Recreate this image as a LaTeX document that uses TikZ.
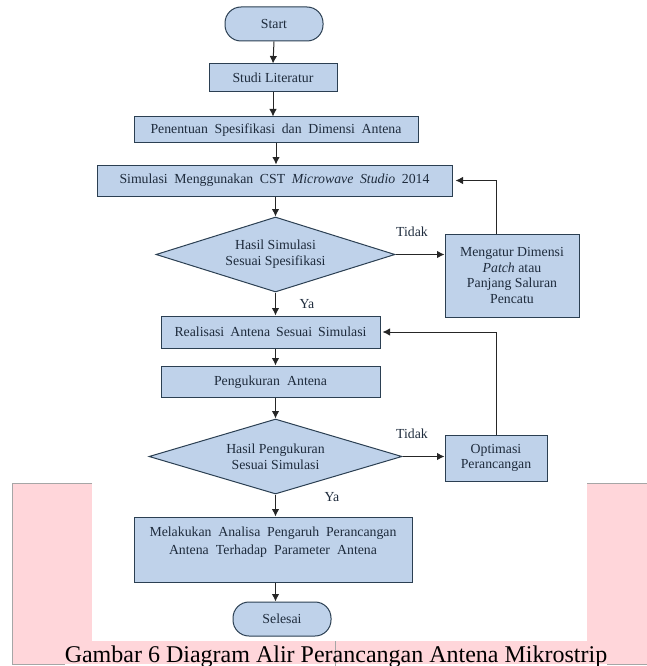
\documentclass[tikz,border=0pt]{standalone}
\usepackage{fontspec}
\setmainfont{Liberation Serif}
\usetikzlibrary{shapes.geometric,arrows.meta}
\definecolor{boxfill}{HTML}{BFD2EA}
\definecolor{boxline}{HTML}{2B3F52}
\definecolor{inktext}{HTML}{1E2B3C}
\definecolor{bandpink}{HTML}{FFD6DA}
\newcommand{\fitline}[2]{\makebox[#1pt][s]{#2}}
\tikzset{
  x=1pt,y=-1pt,
  every node/.style={font=\fontsize{13.8}{15.7}\selectfont,text=inktext,inner sep=0pt},
  procbox/.style={draw=boxline,fill=boxfill,line width=1pt,align=center},
  oneline/.style={text height=10pt,text depth=2pt},
  term/.style={procbox,rounded corners=16pt},
  flow/.style={draw=black!85,line width=1pt,-{Latex[length=7.5pt,width=7.5pt]}},
  note/.style={font=\fontsize{13.8}{15}\selectfont}
}
\begin{document}
\begin{tikzpicture}
\useasboundingbox (0,0) rectangle (647,666);
% pink band behind the white page area
\fill[bandpink] (12,483) rectangle (647,664);
\fill[white] (92,483) rectangle (587,641);
\draw[black!35,line width=0.5pt] (335,641) -- (335,666);
\draw[black!35,line width=0.5pt] (92,483) -- (12,483) -- (12,664) -- (65,664);
\draw[black!35,line width=0.5pt] (587,483) -- (647,483);
\draw[black!35,line width=0.5pt] (607,664) -- (647,664);
\node[font=\fontsize{24}{26}\selectfont,text=black,anchor=base] (cap) at (336,662) {Gambar 6 Diagram Alir Perancangan Antena Mikrostrip};

\node[term,minimum width=98pt,minimum height=34pt] (start) at (274,24) {Start};
\node[procbox,minimum width=128pt,minimum height=28pt] (studi) at (273,78) {Studi Literatur};
\node[procbox,oneline,minimum width=284pt,minimum height=25pt] (spek) at (276,129.5) {\fitline{251}{Penentuan Spesifikasi dan Dimensi Antena}};
\node[procbox,text height=9pt,text depth=3pt,minimum width=355pt,minimum height=31pt] (sim) at (274.5,180.5) {\fitline{310}{Simulasi Menggunakan CST \textit{Microwave Studio} 2014}};
\node[procbox,diamond,minimum width=239pt,minimum height=75pt,aspect=3.19] (hs) at (275.5,254.5) {};
\node[align=center] (hstext) at (275.5,254.5) {Hasil Simulasi\\Sesuai Spesifikasi};
\node[procbox,minimum width=134pt,minimum height=83pt] (atur) at (512,275.5) {Mengatur Dimensi\\\textit{Patch} atau\\Panjang Saluran\\Pencatu};
\node[procbox,oneline,minimum width=219pt,minimum height=32pt] (real) at (270.5,332) {\fitline{192}{Realisasi Antena Sesuai Simulasi}};
\node[procbox,oneline,minimum width=219pt,minimum height=31pt] (ukur) at (270.5,381.5) {\fitline{113}{Pengukuran Antena}};
\node[procbox,diamond,minimum width=253pt,minimum height=75pt,aspect=3.37] (hp) at (275.5,456.5) {};
\node[align=center] (hptext) at (275.5,456.5) {Hasil Pengukuran\\Sesuai Simulasi};
\node[procbox,minimum width=102pt,minimum height=46pt] (opt) at (496,458) {Optimasi\\Perancangan};
\node[procbox,minimum width=278pt,minimum height=65pt,font=\fontsize{13.8}{18}\selectfont] (ana) at (273,549.5) {\fitline{247}{Melakukan Analisa Pengaruh Perancangan}\\\fitline{208}{Antena Terhadap Parameter Antena}\\\mbox{}};
\node[term,minimum width=98pt,minimum height=34pt] (end) at (282,619) {Selesai};

\draw[flow] (start.south) -- (studi.north);
\draw[flow] (studi.south) -- (spek.north -| studi.south);
\draw[flow] (spek.south) -- (sim.north -| spek.south);
\draw[flow] (sim.south -| hs.north) -- (hs.north);
\draw[flow] (hs.south) -- (real.north -| hs.south);
\draw[flow] (real.south -| hs.south) -- (ukur.north -| hs.south);
\draw[flow] (ukur.south -| hp.north) -- (hp.north);
\draw[flow] (hp.south) -- (ana.north -| hp.south);
\draw[flow] (ana.south -| hp.south) -- (end.north -| hp.south);
\draw[flow] (hs.east) -- (atur.west |- hs.east);
\draw[flow] (hp.east) -- (opt.west |- hp.east);
\draw[flow,shorten >=3pt] (atur.north -| opt.north) |- (sim.east);
\draw[flow,shorten >=2pt] (opt.north) |- (real.east);

\node[note] (t1) at (412,232) {Tidak};
\node[note] (t2) at (412,434) {Tidak};
\node[note] (y1) at (307,304) {Ya};
\node[note] (y2) at (332,497) {Ya};
\end{tikzpicture}
\end{document}
